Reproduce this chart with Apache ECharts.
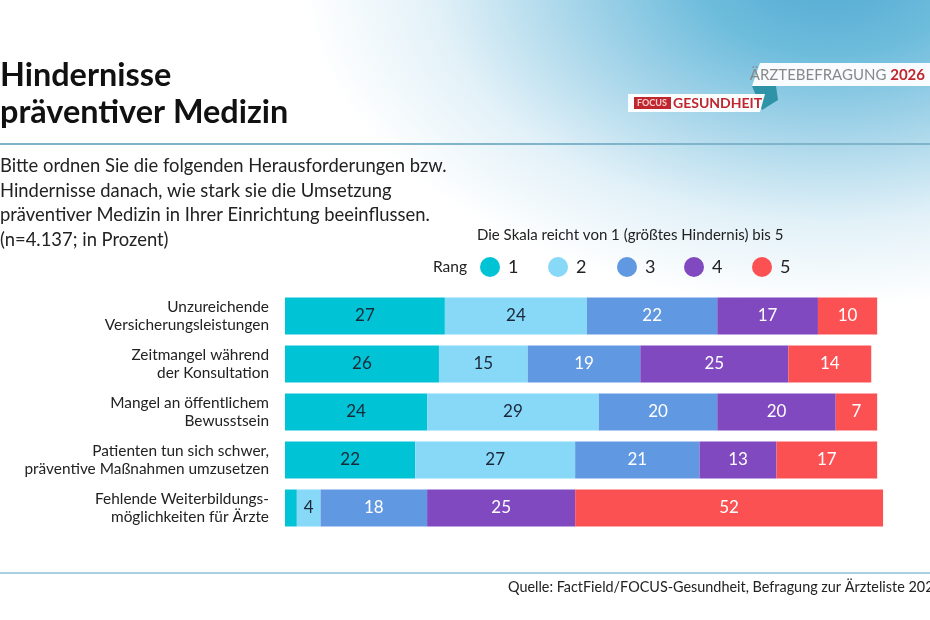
<!DOCTYPE html>
<html>
<head>
<meta charset="utf-8">
<script src="https://cdn.jsdelivr.net/npm/echarts@6/dist/echarts.min.js"></script>
<style>
  html, body { margin: 0; padding: 0; background: #fff; }
  #chart { width: 930px; height: 620px; }
</style>
</head>
<body>
<div id="chart"></div>
<script>
// categories (top to bottom)
const categories = [
  "Unzureichende\nVersicherungsleistungen",
  "Zeitmangel während\nder Konsultation",
  "Mangel an öffentlichem\nBewusstsein",
  "Patienten tun sich schwer,\npräventive Maßnahmen umzusetzen",
  "Fehlende Weiterbildungs-\nmöglichkeiten für Ärzte"
];

// share per rank, in percent
const rank1 = [27, 26, 24, 22, 2];
const rank2 = [24, 15, 29, 27, 4];
const rank3 = [22, 19, 20, 21, 18];
const rank4 = [17, 25, 20, 13, 25];
const rank5 = [10, 14, 7, 17, 52];

const rankNames = ["1", "2", "3", "4", "5"];
const rankColors = ["#00c4d6", "#88d8f8", "#6198e2", "#8049bf", "#fc5152"];
const labelColors = ["#1b2838", "#1b2838", "#ffffff", "#ffffff", "#ffffff"];

const subtitleLines = [
  "Bitte ordnen Sie die folgenden Herausforderungen bzw.",
  "Hindernisse danach, wie stark sie die Umsetzung",
  "präventiver Medizin in Ihrer Einrichtung beeinflussen.",
  "(n=4.137; in Prozent)"
];

const chart = echarts.init(document.getElementById("chart"));
const font = "Lato, 'Noto Sans', sans-serif";

const series = [rank1, rank2, rank3, rank4, rank5].map((vals, i) => ({
  name: rankNames[i],
  type: "bar",
  stack: "total",
  barWidth: 37,
  data: vals,
  itemStyle: { color: rankColors[i] },
  label: {
    show: true,
    position: "inside",
    color: labelColors[i],
    fontFamily: font,
    fontSize: 17,
    formatter: (p) => (p.value < 3 ? "" : p.value)
  }
}));

// legend dots + text, placed by hand like the original
const legendX = [490, 558, 627, 694, 762];
const legendItems = [];
rankNames.forEach((n, i) => {
  legendItems.push({
    type: "circle",
    shape: { cx: legendX[i], cy: 267, r: 10 },
    style: { fill: rankColors[i] }
  });
  legendItems.push({
    type: "text",
    x: legendX[i] + 18, y: 267,
    style: { text: n, font: "18px " + font, fill: "#222", verticalAlign: "middle" }
  });
});

// background glow: elliptical radial gradient (scaled rect)
const bgScale = 0.635;

const option = {
  animation: false,
  textStyle: { fontFamily: font },
  grid: { left: 285, top: 292, width: 604, height: 240 },
  xAxis: { type: "value", min: 0, max: 102, show: false },
  yAxis: {
    type: "category",
    inverse: true,
    data: categories,
    axisLine: { show: false },
    axisTick: { show: false },
    axisLabel: {
      margin: 16,
      fontSize: 15.4,
      lineHeight: 18,
      color: "#222",
      fontFamily: font,
      align: "right"
    }
  },
  series: series,
  graphic: [
    {
      type: "rect", z: -10, silent: true,
      scaleY: bgScale,
      shape: { x: 0, y: 0, width: 930, height: 620 / bgScale },
      style: {
        fill: {
          type: "radial", global: true, x: 830, y: -30 / bgScale, r: 530,
          colorStops: [
            { offset: 0, color: "#52aad2" },
            { offset: 0.25, color: "#6dbcdc" },
            { offset: 0.5, color: "#a8d6ea" },
            { offset: 0.75, color: "#e2f1f8" },
            { offset: 1, color: "#ffffff" }
          ]
        }
      }
    },
    // title
    {
      type: "text", x: 0, y: 57,
      style: { text: "Hindernisse\npräventiver Medizin", font: "bold 32.4px " + font, lineHeight: 37, fill: "#111" }
    },
    // separator lines
    { type: "rect", shape: { x: 0, y: 143, width: 930, height: 2 }, style: { fill: "#80b4ca" } },
    { type: "rect", shape: { x: 0, y: 572, width: 930, height: 2 }, style: { fill: "#a9cfe0" } },
    // question text
    {
      type: "text", x: 0, y: 154,
      style: { text: subtitleLines.join("\n"), font: "18.4px " + font, lineHeight: 24.5, fill: "#222" }
    },
    {
      type: "text", x: 477, y: 228,
      style: { text: "Die Skala reicht von 1 (größtes Hindernis) bis 5", font: "15px " + font, fill: "#222" }
    },
    {
      type: "text", x: 433, y: 267,
      style: { text: "Rang", font: "15.5px " + font, fill: "#222", verticalAlign: "middle" }
    },
    ...legendItems,
    // logo ribbons
    {
      type: "polygon",
      shape: { points: [[760, 63], [930, 63], [930, 86], [752, 86]] },
      style: { fill: "#ffffff", opacity: 0.95 }
    },
    {
      type: "polygon",
      shape: { points: [[752, 86], [776, 86], [778, 100], [762, 110]] },
      style: { fill: "#2f93a8" }
    },
    {
      type: "polygon",
      shape: { points: [[628, 94], [765, 94], [760, 112], [628, 112]] },
      style: { fill: "#ffffff", opacity: 0.95 }
    },
    {
      type: "text", x: 925, y: 75,
      style: {
        text: "{a|ÄRZTEBEFRAGUNG }{b|2026}",
        align: "right", verticalAlign: "middle",
        rich: {
          a: { font: "15px " + font, fill: "#888" },
          b: { font: "bold 15px " + font, fill: "#c0262d" }
        }
      }
    },
    { type: "rect", shape: { x: 634, y: 97, width: 37, height: 12 }, style: { fill: "#c0262d" } },
    {
      type: "text", x: 652, y: 103,
      style: { text: "FOCUS", font: "bold 9px " + font, fill: "#f4d0d0", align: "center", verticalAlign: "middle" }
    },
    {
      type: "text", x: 673, y: 103,
      style: { text: "GESUNDHEIT", font: "bold 14px " + font, fill: "#c0262d", verticalAlign: "middle" }
    },
    // source
    {
      type: "text", x: 508, y: 587,
      style: { text: "Quelle: FactField/FOCUS-Gesundheit, Befragung zur Ärzteliste 2026", font: "14.4px " + font, fill: "#222", verticalAlign: "middle" }
    }
  ]
};

chart.setOption(option);
</script>
</body>
</html>
